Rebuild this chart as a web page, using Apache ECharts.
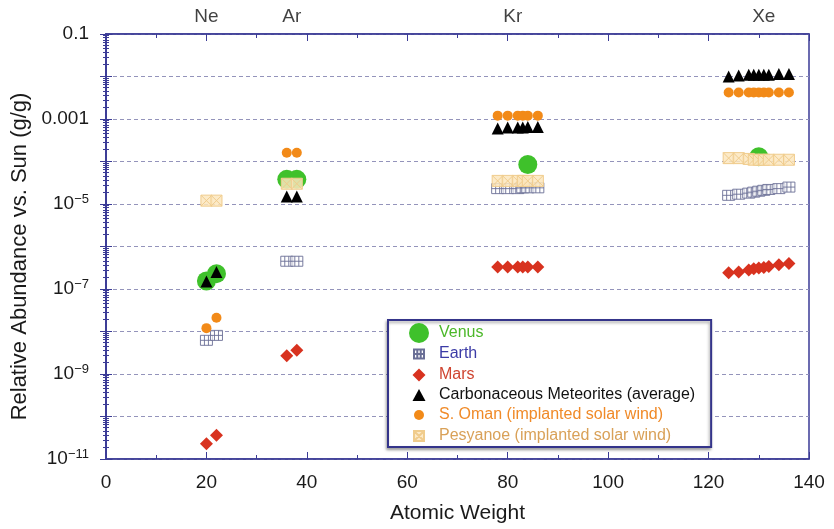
<!DOCTYPE html>
<html>
<head>
<meta charset="utf-8">
<script src="https://cdn.jsdelivr.net/npm/echarts@6/dist/echarts.min.js"></script>
<style>
  html, body { margin: 0; padding: 0; background: #fff; }
  #chart { width: 834px; height: 529px; }
</style>
</head>
<body>
<div id="chart"></div>
<script>
// noble gas abundance, [atomic weight, g/g relative to Sun]
var venus = [[20, 1.55e-7], [22, 2.3e-7], [36, 3.8e-5], [38, 3.8e-5], [84, 8.5e-5], [130, 1.3e-4]];
var earth = [[20, 6.2e-9], [22, 8.1e-9], [36, 4.5e-7], [38, 4.5e-7],
	[78, 2.3e-5], [80, 2.3e-5], [82, 2.3e-5], [83, 2.4e-5], [84, 2.4e-5], [86, 2.4e-5],
	[124, 1.6e-5], [126, 1.7e-5], [128, 1.8e-5], [129, 1.9e-5], [130, 2.0e-5], [131, 2.1e-5], [132, 2.2e-5], [134, 2.3e-5], [136, 2.5e-5]];
var mars = [[20, 2.3e-11], [22, 3.6e-11], [36, 2.7e-9], [38, 3.6e-9],
	[78, 3.3e-7], [80, 3.3e-7], [82, 3.3e-7], [83, 3.3e-7], [84, 3.3e-7], [86, 3.3e-7],
	[124, 2.4e-7], [126, 2.5e-7], [128, 2.8e-7], [129, 3.0e-7], [130, 3.1e-7], [131, 3.2e-7], [132, 3.4e-7], [134, 3.7e-7], [136, 4.0e-7]];
var carbonaceous = [[20, 1.5e-7], [22, 2.5e-7], [36, 1.5e-5], [38, 1.5e-5],
	[78, 6.0e-4], [80, 6.3e-4], [82, 6.3e-4], [83, 6.3e-4], [84, 6.5e-4], [86, 6.5e-4],
	[124, 1.0e-2], [126, 1.05e-2], [128, 1.1e-2], [129, 1.1e-2], [130, 1.1e-2], [131, 1.1e-2], [132, 1.1e-2], [134, 1.15e-2], [136, 1.15e-2]];
var sOman = [[20, 1.2e-8], [22, 2.1e-8], [36, 1.6e-4], [38, 1.6e-4],
	[78, 1.2e-3], [80, 1.2e-3], [82, 1.2e-3], [83, 1.2e-3], [84, 1.2e-3], [86, 1.2e-3],
	[124, 4.2e-3], [126, 4.2e-3], [128, 4.2e-3], [129, 4.2e-3], [130, 4.2e-3], [131, 4.2e-3], [132, 4.2e-3], [134, 4.2e-3], [136, 4.2e-3]];
var pesyanoe = [[20, 1.2e-5], [22, 1.2e-5], [36, 3.0e-5], [38, 3.0e-5],
	[78, 3.5e-5], [80, 3.5e-5], [82, 3.5e-5], [83, 3.5e-5], [84, 3.5e-5], [86, 3.5e-5],
	[124, 1.2e-4], [126, 1.2e-4], [128, 1.15e-4], [129, 1.1e-4], [130, 1.1e-4], [131, 1.1e-4], [132, 1.1e-4], [134, 1.1e-4], [136, 1.1e-4]];
// element names shown above the plot
var elements = [[20, 0.1, 'Ne'], [37, 0.1, 'Ar'], [81, 0.1, 'Kr'], [131, 0.1, 'Xe']];

var FONT = 'Liberation Sans, Arial, sans-serif';
var AXIS_COLOR = '#3b3b96';
var earthIcon = 'path://M0,0H12V10H0Z M4,0V10 M8,0V10 M0,5H12';
var pesyIcon = 'path://M0,0H10V10H0Z M0,0L10,10 M10,0L0,10';
// legend icons: padded to a 20x20 box so each keeps its own size
var legendIcons = {
	earth: 'path://M0,0M20,20M5,5.5H15V14.5H5Z M8.3,5.5V14.5 M11.7,5.5V14.5 M5,10H15',
	mars: 'path://M0,0M20,20M10,3.5L16.5,10L10,16.5L3.5,10Z',
	carb: 'path://M0,0M20,20M10,4L16.5,16H3.5Z',
	oman: 'path://M0,0M20,20M15,10A5,5,0,1,1,5,10A5,5,0,1,1,15,10Z',
	pesy: 'path://M0,0M20,20M5,5H15V15H5Z M5,5L15,15 M15,5L5,15'
};

var chart = echarts.init(document.getElementById('chart'));

function yLabel(v) {
	var e = Math.round(Math.log(v) / Math.LN10);
	if (e % 2 === 0) return '';
	if (e === -1) return '0.1';
	if (e === -3) return '0.001';
	return '10{sup|\u2212' + Math.abs(e) + '}';
}

var yAxisBase = {
	type: 'log',
	logBase: 10,
	min: 1e-11,
	max: 0.1,
	interval: 1,
	axisLine: { show: true, lineStyle: { color: AXIS_COLOR, width: 1.5 } },
	axisTick: { show: true, inside: true, length: 6, lineStyle: { color: AXIS_COLOR } },
	minorTick: { show: true, splitNumber: 10, length: 3, lineStyle: { color: AXIS_COLOR } }
};

var xAxisBase = {
	type: 'value',
	min: 0,
	max: 140,
	interval: 20,
	axisLine: { lineStyle: { color: AXIS_COLOR, width: 1.5 } },
	axisTick: { inside: true, length: 7, lineStyle: { color: AXIS_COLOR } },
	minorTick: { show: true, splitNumber: 2, length: 4, lineStyle: { color: AXIS_COLOR } },
	splitLine: { show: false }
};

var option = {
	animation: false,
	textStyle: { fontFamily: FONT },
	grid: {
		left: 106, right: 25, top: 34, bottom: 68,
		show: true, borderColor: AXIS_COLOR, borderWidth: 1.5
	},
	legend: {
		orient: 'vertical',
		left: 388,
		top: 320,
		padding: [3, 16, 0, 20],
		itemWidth: 20,
		itemHeight: 20,
		itemGap: 0,
		backgroundColor: '#fff',
		borderColor: '#34348a',
		borderWidth: 2,
		shadowColor: 'rgba(0,0,0,0.35)',
		shadowBlur: 3,
		shadowOffsetX: -1,
		shadowOffsetY: 2,
		textStyle: { fontSize: 16, lineHeight: 18, fontFamily: FONT, padding: [0, 0, 0, 5] },
		data: [
			{ name: 'Venus', icon: 'circle', textStyle: { color: '#4cb82a' } },
			{ name: 'Earth', icon: legendIcons.earth, textStyle: { color: '#3b3ba6' } },
			{ name: 'Mars', icon: legendIcons.mars, textStyle: { color: '#cf4531' } },
			{ name: 'Carbonaceous Meteorites (average)', icon: legendIcons.carb, textStyle: { color: '#111' } },
			{ name: 'S. Oman (implanted solar wind)', icon: legendIcons.oman, textStyle: { color: '#f08a28' } },
			{ name: 'Pesyanoe (implanted solar wind)', icon: legendIcons.pesy, textStyle: { color: '#d9a158' } }
		]
	},
	xAxis: [
		echarts.util.merge({
			name: 'Atomic Weight',
			nameLocation: 'middle',
			nameGap: 44,
			nameTextStyle: { fontSize: 21, color: '#1a1a1a' },
			axisLabel: { fontSize: 19, color: '#1a1a1a', margin: 14 }
		}, xAxisBase, true),
		echarts.util.merge({
			position: 'top',
			axisLabel: { show: false }
		}, xAxisBase, true)
	],
	yAxis: [
		echarts.util.merge({
			name: 'Relative Abundance vs. Sun (g/g)',
			nameLocation: 'middle',
			nameGap: 74,
			nameTextStyle: { fontSize: 22, color: '#1a1a1a', padding: [0, 20, 0, 0] },
			axisLabel: {
				fontSize: 19,
				color: '#1a1a1a',
				margin: 17,
				formatter: yLabel,
				rich: { sup: { fontSize: 13, padding: [0, 0, 10, 0], color: '#1a1a1a' } }
			},
			splitLine: { show: true, lineStyle: { color: '#9494bb', type: [4, 3], width: 1 } }
		}, yAxisBase, true),
		echarts.util.merge({
			position: 'right',
			axisLabel: { show: false },
			splitLine: { show: false }
		}, yAxisBase, true)
	],
	series: [
		{
			name: 'Venus', type: 'scatter', data: venus,
			symbol: 'circle', symbolSize: 19,
			itemStyle: { color: '#3fc12b', opacity: 1 }
		},
		{
			name: 'Earth', type: 'scatter', data: earth,
			symbol: earthIcon, symbolSize: [12, 10],
			itemStyle: { color: 'rgba(255,255,255,0.6)', borderColor: '#6a6f96', borderWidth: 0.9, opacity: 1 }
		},
		{
			name: 'Mars', type: 'scatter', data: mars,
			symbol: 'diamond', symbolSize: 13,
			itemStyle: { color: '#d8321f', opacity: 1 }
		},
		{
			name: 'Carbonaceous Meteorites (average)', type: 'scatter', data: carbonaceous,
			symbol: 'triangle', symbolSize: 12,
			itemStyle: { color: '#000', opacity: 1 }
		},
		{
			name: 'S. Oman (implanted solar wind)', type: 'scatter', data: sOman,
			symbol: 'circle', symbolSize: 10,
			itemStyle: { color: '#f28a18', opacity: 1 }
		},
		{
			name: 'Pesyanoe (implanted solar wind)', type: 'scatter', data: pesyanoe,
			symbol: pesyIcon, symbolSize: 11,
			itemStyle: { color: 'rgba(252,230,190,0.85)', borderColor: '#f0cc8c', borderWidth: 1, opacity: 1 }
		},
		{
			// element names at the top edge
			name: 'elements', type: 'scatter', data: elements,
			symbolSize: 0, clip: false, silent: true,
			label: {
				show: true, position: 'top', distance: 8,
				fontSize: 19, color: '#111',
				formatter: function(p) { return p.data[2]; }
			}
		}
	]
};

chart.setOption(option);
</script>
</body>
</html>
